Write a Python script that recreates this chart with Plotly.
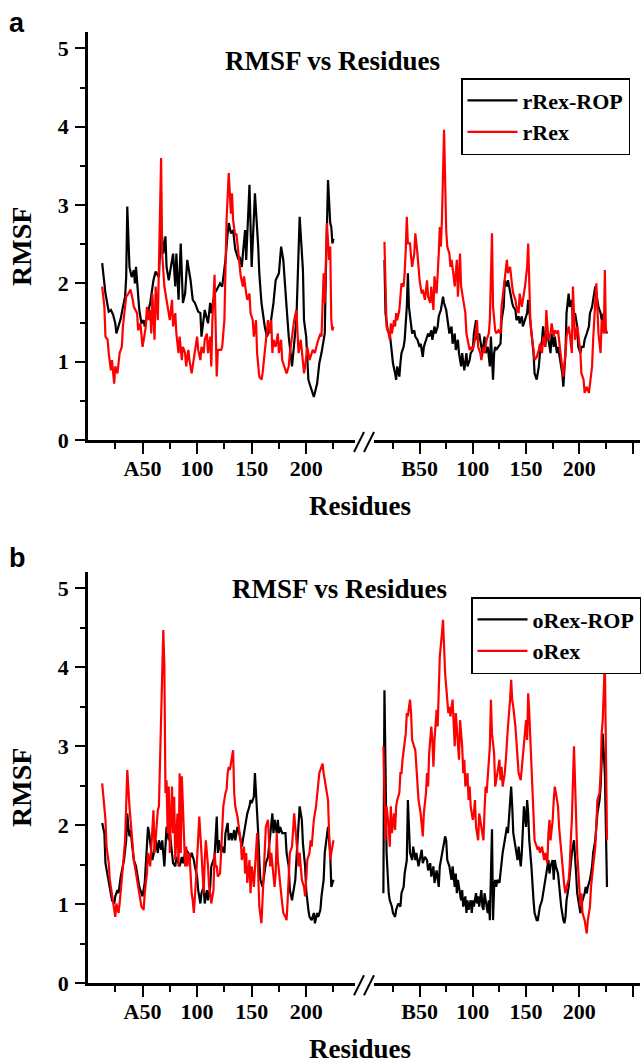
import plotly.graph_objects as go

# ---------------- data (residue number, RMSF) ----------------
# Panel a, chain A
a_A_rop_res = [13,16,19,21,23,25,26,28,30,32,
               34,35,36,38,40,42,43,44,46,47,
               49,51,52,57,60,62,65,67,69,71,
               72,74,76,78,80,81,83,85,87,89,
               91,94,96,98,101,103,104,106,107,110,
               112,113,116,118,121,123,126,128,129,131,
               133,135,138,139,141,142,144,145,146,148,
               150,153,156,157,159,162,164,167,170,172,
               175,177,179,181,182,184,186,187,191,194,
               197,198,200,201,202,204,207,210,212,214,
               217,218,220,222,223,224,225]
a_A_rop_val = [2.26,1.87,1.64,1.66,1.60,1.49,1.36,1.47,1.55,1.70,
               1.83,2.08,2.98,2.21,2.08,2.17,2.00,2.21,1.87,1.66,
               1.49,1.53,1.45,1.75,2.04,2.15,2.08,2.77,2.38,2.60,
               2.21,2.04,2.21,2.38,1.96,2.38,1.79,2.51,1.75,1.87,
               2.30,2.04,1.79,1.75,1.64,1.62,1.32,1.53,1.66,1.49,
               1.75,1.62,1.87,1.92,2.00,1.96,2.30,2.64,2.77,2.64,
               2.68,2.43,2.30,2.34,2.21,2.38,2.68,2.30,2.60,3.26,
               2.21,3.15,2.47,2.13,1.75,1.45,1.32,1.45,1.75,2.04,
               2.13,2.47,2.30,1.96,1.70,1.32,1.06,0.94,1.53,2.85,
               2.17,1.53,1.32,1.11,0.77,0.68,0.55,0.72,0.98,1.11,
               1.36,2.13,3.32,2.77,2.72,2.51,2.57]

a_A_rex_res = [13,15,16,18,19,21,22,24,25,27,
               29,31,32,34,35,37,39,41,42,45,
               46,48,50,52,53,54,56,57,58,59,
               61,62,64,67,68,70,71,73,75,77,
               78,80,81,83,84,86,87,89,90,92,
               93,95,97,98,100,101,103,104,106,107,
               109,110,112,113,114,116,118,119,122,123,
               125,127,129,131,132,133,135,136,138,140,
               142,143,145,146,148,149,151,152,154,155,
               157,159,160,162,163,165,167,168,169,170,
               172,174,175,177,178,180,182,184,185,187,
               189,191,192,193,195,196,198,199,201,203,
               204,206,208,210,213,214,216,217,219,221,
               222,223,224,225]
a_A_rex_val = [1.96,1.70,1.32,1.28,1.11,0.89,1.02,0.72,0.94,0.85,
               1.11,1.19,1.45,1.66,1.83,1.87,1.92,1.79,1.70,1.62,
               1.40,1.49,1.19,1.36,1.45,1.70,1.53,1.66,1.36,1.87,
               1.28,1.96,1.53,3.60,2.38,1.96,1.87,1.70,1.53,1.79,
               1.45,1.62,1.36,1.11,1.32,1.02,1.19,1.11,0.94,1.15,
               1.02,0.85,1.02,1.11,1.32,1.15,1.02,1.19,1.11,1.28,
               1.36,1.11,1.32,0.94,1.53,2.11,0.81,1.15,1.15,1.19,
               1.53,2.81,3.41,2.89,3.15,2.81,2.60,2.64,2.38,2.09,
               1.96,2.09,1.87,1.79,1.87,1.62,1.53,1.32,1.53,1.11,
               0.81,0.77,0.85,1.11,1.32,1.53,1.36,1.53,1.11,1.28,
               1.19,1.36,1.11,1.28,1.02,0.94,0.85,0.94,1.11,1.32,
               1.53,1.66,1.45,1.11,1.28,1.11,0.85,0.94,1.19,1.02,
               1.06,1.15,1.11,1.23,1.36,1.32,2.13,1.75,2.77,2.30,
               2.47,1.53,1.40,1.45]

# Panel a, chain B
a_B_rop_res = [17,18,20,22,24,25,27,28,29,31,
               32,33,35,36,38,39,40,42,43,45,
               46,48,50,51,53,54,56,58,59,61,
               62,64,65,67,68,70,72,73,75,76,
               78,80,81,83,84,86,87,89,90,92,
               94,95,97,98,100,101,103,104,106,108,
               109,111,112,114,116,117,119,120,121,122,
               124,126,127,129,130,132,133,135,137,138,
               140,141,143,144,146,147,149,151,152,154,
               155,157,158,160,162,163,165,166,168,169,
               171,173,174,176,177,179,180,182,184,185,
               187,188,190,191,193,194,196,198,199,201,
               202,204,205,207,209,210,212,213,215,216,
               218,220,221,223,224,226]
a_B_rop_val = [2.30,1.62,1.40,1.36,1.11,0.98,0.85,0.77,0.94,0.81,
               0.98,1.11,1.19,1.28,1.70,2.13,1.70,1.45,1.36,1.40,
               1.32,1.28,1.19,1.23,1.06,1.19,1.28,1.36,1.32,1.40,
               1.28,1.45,1.36,1.45,1.58,1.66,1.83,1.75,1.66,1.53,
               1.36,1.45,1.23,1.36,1.15,1.28,1.11,0.94,1.11,0.89,
               1.11,0.94,1.02,1.11,1.15,1.36,1.53,1.28,1.36,1.19,
               1.11,1.32,1.11,1.19,0.94,1.32,0.77,1.11,1.19,1.15,
               1.19,1.23,1.53,1.70,2.04,1.96,2.04,1.87,1.75,1.70,
               1.66,1.53,1.58,1.49,1.58,1.45,1.53,1.62,1.79,1.53,
               1.32,1.11,0.85,0.77,0.94,1.11,1.28,1.45,1.19,1.36,
               1.28,1.11,1.36,1.19,1.32,1.11,1.19,1.02,0.85,0.68,
               1.11,1.62,1.87,1.70,1.79,1.53,1.62,1.45,1.19,1.11,
               1.19,1.19,1.28,1.36,1.45,1.62,1.70,1.79,1.96,1.87,
               1.70,1.62,1.53,1.62,1.45,1.36]

a_B_rex_res = [17,18,19,21,22,23,24,26,27,28,
               29,31,32,33,35,36,37,38,39,41,
               42,43,45,46,48,49,50,52,53,55,
               57,58,60,61,63,64,66,68,69,70,
               71,73,74,75,76,78,79,80,82,83,
               85,86,88,89,91,93,94,96,97,99,
               100,102,104,105,107,108,110,111,113,115,
               116,118,119,121,122,124,126,127,129,130,
               132,133,135,137,138,140,141,143,144,146,
               147,149,151,152,154,155,157,158,160,162,
               163,165,166,168,169,171,173,174,176,177,
               179,180,182,184,185,187,188,190,191,193,
               194,196,198,199,201,202,204,205,207,209,
               210,212,213,215,216,218,220,221,223,224,
               225]
a_B_rex_val = [2.53,1.70,1.45,1.36,1.28,1.49,1.36,1.53,1.45,1.62,
               1.53,1.66,1.92,2.00,1.96,2.13,2.43,2.85,2.51,2.51,
               2.34,2.21,2.38,2.64,2.38,2.17,2.04,1.87,1.92,1.79,
               2.04,1.83,1.75,1.96,1.66,2.09,1.87,2.38,2.72,2.47,
               2.81,3.96,2.98,2.68,2.47,2.38,2.21,2.30,2.09,1.96,
               2.30,1.83,2.38,1.96,1.79,1.62,1.36,1.19,1.15,1.19,
               1.15,1.28,1.53,1.19,1.11,1.02,1.19,1.11,1.28,1.36,
               1.53,2.64,1.70,1.40,1.36,1.40,1.36,1.70,1.96,2.09,
               2.30,2.13,2.21,1.96,1.87,1.79,1.70,1.62,1.87,1.70,
               1.79,1.96,2.21,2.51,1.53,1.36,1.15,1.02,1.06,1.15,
               1.23,1.11,1.32,1.19,1.66,1.28,1.36,1.49,1.32,1.40,
               1.36,1.40,1.15,0.94,0.81,1.11,1.32,1.45,1.36,1.11,
               1.96,1.28,1.45,1.36,1.11,0.85,0.77,0.60,0.68,0.60,
               0.72,0.94,1.28,1.70,2.00,1.36,1.11,1.53,1.36,2.17,
               1.36]

# Panel b, chain A
b_A_rop_res = [13,15,16,18,19,21,22,24,25,27,
               28,30,31,33,35,36,37,38,39,41,
               42,44,46,47,49,50,52,53,55,56,
               58,59,61,62,64,65,67,68,70,71,
               72,74,75,77,78,80,81,83,84,86,
               87,89,90,92,93,95,97,98,100,101,
               103,104,106,107,109,110,112,113,115,116,
               118,119,120,122,123,125,126,128,129,131,
               132,134,135,137,138,140,141,143,145,146,
               148,149,150,152,153,155,156,157,158,160,
               162,163,165,166,168,169,170,171,173,174,
               175,176,178,179,181,182,184,185,187,188,
               190,191,193,194,196,197,199,200,202,203,
               205,207,208,210,211,213,214,216,217,219,
               220,221,222,223,225]
b_A_rop_val = [2.03,1.90,1.52,1.35,1.31,1.14,1.05,1.01,1.10,1.18,
               1.14,1.35,1.43,1.56,1.81,2.15,1.98,1.86,1.94,1.73,
               1.56,1.48,1.31,1.22,1.14,1.10,1.27,1.52,1.98,1.90,
               1.65,1.56,1.69,1.81,1.65,1.81,1.69,1.81,1.48,1.73,
               1.98,1.81,1.90,1.65,1.52,1.48,1.60,1.52,1.48,1.60,
               1.52,1.65,1.69,1.65,1.56,1.65,1.56,1.48,1.35,1.18,
               1.01,1.14,1.22,1.01,1.18,1.05,1.22,1.48,1.56,1.60,
               2.11,1.65,1.81,1.65,1.73,1.65,1.90,2.03,1.81,1.90,
               1.81,1.94,1.81,1.98,1.94,1.81,1.73,1.90,2.07,2.15,
               2.24,2.32,2.28,2.36,2.66,2.24,1.90,1.56,1.31,1.22,
               1.39,1.52,1.60,1.73,1.98,2.15,1.90,2.07,1.90,2.07,
               1.90,1.98,1.90,1.90,1.90,1.65,1.48,1.18,1.05,1.14,
               1.31,1.56,1.98,2.24,2.07,1.77,1.48,1.18,0.93,0.84,
               0.80,0.89,0.76,0.89,0.84,0.93,1.10,1.31,1.65,1.90,
               1.98,1.81,1.65,1.22,1.31]

b_A_rex_res = [13,15,16,17,19,20,22,23,25,26,
               28,29,31,32,34,35,36,38,39,40,
               42,43,45,46,48,49,51,52,54,55,
               57,58,59,60,61,63,64,65,66,68,
               69,70,71,72,73,74,75,77,78,79,
               80,82,83,84,85,86,88,89,90,91,
               93,94,95,96,97,99,100,101,102,104,
               105,106,107,108,110,111,112,113,115,116,
               117,118,119,121,122,123,124,126,127,128,
               129,130,132,133,134,135,137,138,139,140,
               141,143,144,145,146,148,149,150,151,152,
               154,155,156,157,159,160,161,162,163,165,
               166,167,168,170,171,172,173,174,176,177,
               178,179,181,182,183,184,185,187,188,189,
               190,192,193,194,195,196,198,199,200,201,
               203,204,205,206,207,209,210,211,212,214,
               215,216,217,218,220,221,222,223,225]
b_A_rex_val = [2.53,2.15,2.07,1.73,1.52,1.31,1.10,1.05,0.84,1.01,
               0.89,1.01,1.27,1.48,1.81,2.24,2.70,2.24,2.11,1.90,
               1.56,1.48,1.31,1.22,1.05,0.97,0.93,1.14,1.39,1.65,
               1.48,1.73,1.81,2.19,1.65,2.11,2.19,2.24,2.74,4.05,
               4.47,4.01,2.41,2.57,1.90,2.49,1.65,2.49,1.90,2.36,
               1.56,2.15,1.48,2.66,1.65,2.62,1.90,1.48,1.73,1.48,
               1.65,1.31,1.14,1.05,0.89,1.31,1.65,1.81,2.11,1.65,
               1.39,1.14,1.56,1.81,1.48,1.22,1.14,1.01,1.18,1.65,
               1.48,1.48,1.35,1.39,1.65,1.90,2.24,2.41,2.45,2.66,
               2.74,2.70,2.87,2.95,2.41,2.24,2.11,1.98,1.90,1.81,
               1.56,1.73,1.39,1.65,1.27,1.56,1.14,1.48,1.39,1.22,
               1.65,1.90,1.39,0.97,0.76,1.05,1.39,1.65,1.98,2.07,
               1.65,1.48,1.65,1.35,1.22,1.39,1.90,1.56,1.22,1.14,
               1.01,0.89,0.84,0.80,1.05,1.31,1.65,1.73,1.98,2.15,
               1.98,1.65,1.48,1.65,1.48,1.31,1.22,1.10,1.31,1.56,
               1.65,1.81,1.73,1.94,2.07,2.24,2.41,2.53,2.66,2.74,
               2.78,2.66,2.57,2.49,2.32,1.90,1.56,1.65,1.81]

# Panel b, chain B
b_B_rop_res = [16,17,18,19,21,22,24,25,27,28,
               30,32,33,35,36,38,39,40,41,43,
               44,46,47,49,50,52,53,55,57,58,
               60,61,63,64,66,68,69,71,72,74,
               75,76,78,79,80,81,83,84,85,86,
               88,89,90,91,93,94,95,96,98,99,
               100,101,103,104,105,106,108,109,110,111,
               113,114,115,116,118,119,120,121,122,123,
               125,126,127,128,130,131,132,133,135,136,
               137,138,140,141,142,143,145,146,147,148,
               150,151,152,153,155,156,157,158,160,161,
               162,163,165,166,167,168,170,171,172,173,
               175,176,177,178,180,181,182,183,185,186,
               187,188,190,191,192,193,195,196,197,198,
               200,201,202,203,205,206,207,208,210,211,
               212,213,215,216,217,219,220,221,222,224,
               225,226]
b_B_rop_val = [1.14,3.71,2.74,1.65,1.14,1.05,0.97,0.89,0.84,0.93,
               1.01,0.97,1.14,1.22,1.39,1.56,2.32,1.81,1.65,1.56,
               1.73,1.56,1.65,1.48,1.56,1.69,1.52,1.60,1.56,1.43,
               1.52,1.35,1.48,1.27,1.43,1.22,1.48,1.65,1.73,1.86,
               1.81,1.56,1.48,1.39,1.31,1.48,1.22,1.39,1.14,1.31,
               1.14,1.05,1.18,0.97,1.10,0.89,1.05,0.93,1.05,0.89,
               1.05,0.97,1.14,1.01,1.10,0.97,1.18,0.97,0.93,1.14,
               0.97,0.89,1.05,0.80,1.95,0.80,1.22,1.31,1.22,1.31,
               1.27,1.39,1.56,1.65,1.81,1.90,1.98,1.90,2.24,2.49,
               2.24,1.90,1.73,1.65,1.56,1.73,1.48,1.65,1.90,2.24,
               1.98,2.32,2.15,1.81,1.48,1.22,1.05,0.89,0.80,0.80,
               0.89,0.97,1.05,1.14,1.22,1.35,1.48,1.56,1.39,1.48,
               1.56,1.31,1.56,1.48,1.39,1.22,1.14,0.97,0.80,0.76,
               0.84,1.05,1.22,1.39,1.56,1.65,1.81,1.65,1.39,1.14,
               0.97,0.89,0.97,1.05,1.14,1.22,1.14,1.22,1.31,1.39,
               1.48,1.65,1.81,1.98,2.15,2.32,2.49,2.83,3.16,2.66,
               1.90,1.22]

b_B_rex_res = [16,17,18,19,21,22,23,24,26,27,
               28,29,31,32,33,34,36,37,38,39,
               41,42,43,44,46,47,48,49,51,52,
               53,54,56,57,58,59,61,62,63,64,
               66,67,68,69,71,72,73,74,76,77,
               78,79,81,82,83,84,86,87,88,90,
               91,92,93,95,96,97,98,100,101,102,
               103,105,106,107,108,110,111,112,113,115,
               116,117,118,120,121,122,123,125,126,127,
               128,130,131,132,133,135,136,137,138,140,
               141,142,143,145,146,147,148,150,151,152,
               153,155,156,157,158,160,161,162,163,165,
               166,167,168,170,171,172,173,175,176,177,
               178,180,181,182,183,185,186,187,188,190,
               191,192,193,195,196,197,198,200,201,202,
               203,205,206,207,208,210,211,212,213,215,
               216,217,219,220,221,222,224,225,226]
b_B_rex_val = [3.00,2.24,1.81,2.24,1.98,1.73,2.24,1.90,2.15,1.94,
               2.24,2.32,2.41,2.66,2.66,2.83,3.08,3.16,3.42,3.38,
               3.59,3.42,3.08,3.04,2.95,2.74,2.57,2.32,2.15,1.98,
               1.86,2.15,2.41,2.66,2.49,2.91,3.25,3.08,2.74,3.08,
               3.46,3.25,3.76,4.14,4.43,4.60,4.26,3.92,3.59,3.42,
               3.50,3.38,3.59,3.16,3.00,3.42,3.04,2.83,3.33,3.00,
               2.66,2.83,2.49,2.66,2.32,2.49,2.24,2.07,2.15,2.32,
               1.98,1.81,2.15,2.07,1.94,1.81,2.19,2.49,2.41,2.83,
               3.00,3.59,3.16,2.91,2.49,2.57,2.66,2.83,2.57,2.74,
               2.49,2.66,2.83,3.08,3.25,3.59,3.84,3.59,3.50,3.25,
               3.00,2.74,2.66,2.57,2.74,2.83,3.00,3.33,3.08,3.67,
               3.42,2.74,2.32,1.98,1.81,1.73,1.69,1.73,1.65,1.73,
               1.65,1.56,1.65,1.52,1.90,2.07,1.81,2.07,2.32,2.49,
               2.41,2.24,1.98,1.81,1.65,1.39,1.22,1.14,1.22,1.31,
               1.48,1.81,2.07,3.00,2.49,2.07,1.65,1.22,0.97,1.14,
               0.89,0.80,0.72,0.63,0.80,0.97,1.22,1.39,1.48,1.73,
               1.98,2.32,2.41,2.66,3.16,3.33,4.09,2.74,1.81]

# tick labels
A_ticks = [50, 100, 150, 200]
A_ticktext = ["A50", "100", "150", "200"]
A_minor = [25, 75, 125, 175, 225]
B_ticks = [50, 100, 150, 200, 250]
B_ticktext = ["B50", "100", "150", "200", ""]
B_minor = [25, 75, 125, 175, 225]
y_ticks = [0, 1, 2, 3, 4, 5]
y_minor = [0.5, 1.5, 2.5, 3.5, 4.5]

# ---------------- figure ----------------
W, H = 643, 1064
def fx(p):
    return p / W
def fy(p):
    return 1 - p / H

BLACK = "#000000"
RED = "#ff0000"
SERIF = "Liberation Serif"
SANS = "Liberation Sans"

fig = go.Figure()

def add(x, y, xa, ya, color, name, show, legend):
    fig.add_trace(go.Scatter(
        x=x, y=y, mode="lines", line=dict(color=color, width=2.2),
        xaxis=xa, yaxis=ya, name=name, showlegend=show, legend=legend,
        legendgroup=legend + name, hoverinfo="skip"))

add(a_A_rop_res, a_A_rop_val, "x", "y", BLACK, "rRex-ROP", True, "legend")
add(a_A_rex_res, a_A_rex_val, "x", "y", RED, "rRex", True, "legend")
add(a_B_rop_res, a_B_rop_val, "x2", "y", BLACK, "rRex-ROP", False, "legend")
add(a_B_rex_res, a_B_rex_val, "x2", "y", RED, "rRex", False, "legend")
add(b_A_rop_res, b_A_rop_val, "x3", "y2", BLACK, "oRex-ROP", True, "legend2")
add(b_A_rex_res, b_A_rex_val, "x3", "y2", RED, "oRex", True, "legend2")
add(b_B_rop_res, b_B_rop_val, "x4", "y2", BLACK, "oRex-ROP", False, "legend2")
add(b_B_rex_res, b_B_rex_val, "x4", "y2", RED, "oRex", False, "legend2")

tickfont = dict(family=SERIF, size=22, color="black", weight="bold")

def xax(domain, rng, anchor, tv, tt, mv):
    return dict(domain=domain, range=rng, anchor=anchor, showline=True,
                linecolor="black", linewidth=2.5, ticks="outside", ticklen=11,
                tickwidth=2, tickcolor="black", tickvals=tv, ticktext=tt,
                minor=dict(tickvals=mv, ticks="outside", ticklen=6, tickwidth=2,
                           tickcolor="black", showgrid=False),
                showgrid=False, zeroline=False, tickfont=tickfont,
                automargin=False, fixedrange=True, ticklabelstandoff=-4)

def yax(domain, rng, anchor):
    return dict(domain=domain, range=rng, anchor=anchor, showline=True,
                linecolor="black", linewidth=2.5, ticks="outside", ticklen=10,
                tickwidth=2, tickcolor="black", tickvals=y_ticks,
                minor=dict(tickvals=y_minor, ticks="outside", ticklen=5, tickwidth=2,
                           tickcolor="black", showgrid=False),
                showgrid=False, zeroline=False, tickfont=tickfont,
                automargin=False, fixedrange=True, ticklabelstandoff=2)

A_dom = [fx(88), fx(355.3)]
B_dom = [fx(373.9), fx(640)]

legfont = dict(family=SERIF, size=22, color="black", weight="bold")

fig.update_layout(
    width=W, height=H, margin=dict(l=0, r=0, t=0, b=0),
    paper_bgcolor="white", plot_bgcolor="rgba(0,0,0,0)",
    xaxis=xax(A_dom, [0, 245], "y", A_ticks, A_ticktext, A_minor),
    xaxis2=xax(B_dom, [7.1, 257], "y", B_ticks, B_ticktext, B_minor),
    xaxis3=xax(A_dom, [0, 245], "y2", A_ticks, A_ticktext, A_minor),
    xaxis4=xax(B_dom, [7.1, 257], "y2", B_ticks, B_ticktext, B_minor),
    yaxis=yax([fy(440), fy(32)], [0, 5.21], "x"),
    yaxis2=yax([fy(983.3), fy(572)], [0, 5.206], "x3"),
    legend=dict(x=fx(630), xanchor="right", y=fy(78), yanchor="top",
                bordercolor="black", borderwidth=1.5, bgcolor="white",
                font=legfont, tracegroupgap=0, itemwidth=50),
    legend2=dict(x=fx(641), xanchor="right", y=fy(597), yanchor="top",
                 bordercolor="black", borderwidth=1.5, bgcolor="white",
                 font=legfont, tracegroupgap=0, itemwidth=50),
    showlegend=True,
)

ann = []
def text(t, x, y, size, family=SERIF, angle=0):
    ann.append(dict(text=t, x=fx(x), y=fy(y), xref="paper", yref="paper",
                    showarrow=False, xanchor="center", yanchor="middle",
                    textangle=angle,
                    font=dict(family=family, size=size, color="black", weight="bold")))

text("a", 17, 23, 27, SANS)
text("b", 17, 558, 27, SANS)
text("RMSF vs Residues", 332, 61, 27)
text("RMSF vs Residues", 339, 589, 27)
text("Residues", 360, 506, 27)
text("Residues", 360, 1049, 27)
text("RMSF", 21, 247, 28, angle=-90)
text("RMSF", 21, 788, 28, angle=-90)
fig.update_layout(annotations=ann)

# axis break marks "//"
shapes = []
for y0 in (440, 983.3):
    for dx in (0, 10):
        shapes.append(dict(type="line", xref="paper", yref="paper",
                           x0=fx(354 + dx), y0=fy(y0 + 12), x1=fx(364 + dx), y1=fy(y0 - 8),
                           line=dict(color="black", width=2)))
fig.update_layout(shapes=shapes)

fig.write_html("out.html", config={"displayModeBar": False},
               post_script="document.body.style.margin='0';")
